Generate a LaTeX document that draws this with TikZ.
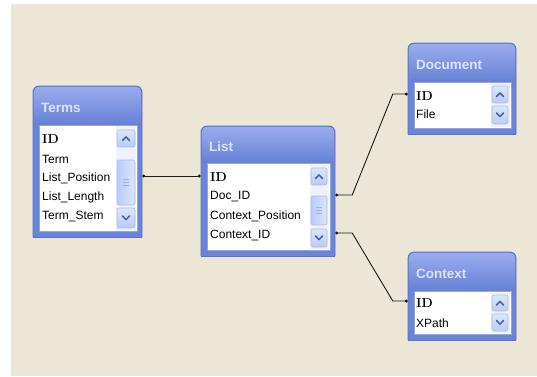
\documentclass[tikz,border=0pt]{standalone}
\usepackage{fontspec}
\usetikzlibrary{calc,fit,arrows.meta}
\newfontfamily\uifont{Liberation Sans}

\definecolor{desk}{HTML}{ECE6D6}
\definecolor{frameblue}{HTML}{6A84D8}
\definecolor{frameedge}{HTML}{5870C6}
\definecolor{headtop}{HTML}{9AACEE}
\definecolor{headbot}{HTML}{6680D6}
\definecolor{titletext}{HTML}{DCE2FA}
\definecolor{listedge}{HTML}{96A6DA}
\definecolor{sbtrack}{HTML}{EEF2FC}
\definecolor{btntop}{HTML}{DCE6FC}
\definecolor{btnbot}{HTML}{B9CBF5}
\definecolor{btnedge}{HTML}{A9BCEC}
\definecolor{chev}{HTML}{4A5F9E}
\definecolor{grip}{HTML}{9DB1E8}
\definecolor{linkcol}{HTML}{1A1A1A}

\tikzset{
  link/.style={draw=linkcol, line width=0.9pt,
    {Circle[length=3pt]}-{Circle[length=3pt]}},
  field/.style={anchor=west, inner sep=0pt, text=black,
    font=\uifont\fontsize{12}{12}\selectfont},
  keyfield/.style={anchor=west, inner sep=0pt, text=black,
    font=\rmfamily\bfseries\fontsize{13}{13}\selectfont},
  tabletitle/.style={anchor=west, inner sep=0pt, text=titletext,
    font=\uifont\bfseries\fontsize{13.5}{14}\selectfont},
}

% table window: name, x1, y1, x2, y2, top of field list, title
\newcommand\dbtable[7]{%
  \coordinate (#1-nw) at (#2,#3);
  \coordinate (#1-se) at (#4,#5);
  \node[inner sep=0pt, fit=(#1-nw)(#1-se)] (#1) {};
  \filldraw[fill=frameblue, draw=frameedge, line width=0.8pt, rounded corners=6pt]
    (#2,#5) -- (#2,#3) -- (#4,#3) -- (#4,#5);
  \draw[frameedge, line width=0.8pt] (#2,#5) -- (#4,#5);
  \shade[top color=headtop, bottom color=headbot, rounded corners=5pt]
    (#2+0.8,#6) -- (#2+0.8,#3+0.8) -- (#4-0.8,#3+0.8) -- (#4-0.8,#6);
  \filldraw[fill=white, draw=listedge, line width=0.6pt] (#2+6,#6) rectangle (#4-5,#5-6);
  \node[tabletitle] (#1-title) at ({#2+8},{(#3+#6)/2+2}) {#7};
}

% scrollbar track: x1, y1, x2, y2
\newcommand\sbtrack[4]{\fill[sbtrack] (#1,#2) rectangle (#3,#4);}

% scroll button with chevron: x1, y1, x2, y2, direction (1 = up, -1 = down)
\newcommand\sbbutton[5]{%
  \shade[top color=btntop, bottom color=btnbot, rounded corners=2pt] (#1,#2) rectangle (#3,#4);
  \draw[btnedge, line width=0.6pt, rounded corners=2pt] (#1,#2) rectangle (#3,#4);
  \draw[chev, line width=1.5pt, line cap=round, line join=round]
    ({(#1+#3)/2-3.5},{(#2+#4)/2+2*#5}) -- ({(#1+#3)/2},{(#2+#4)/2-1.6*#5})
    -- ({(#1+#3)/2+3.5},{(#2+#4)/2+2*#5});
}

% scroll thumb with grip: x1, y1, x2, y2
\newcommand\sbthumb[4]{%
  \shade[left color=btnbot, right color=btntop, rounded corners=2pt] (#1,#2) rectangle (#3,#4);
  \draw[btnedge, line width=0.6pt, rounded corners=2pt] (#1,#2) rectangle (#3,#4);
  \foreach \g in {-3,0,3}
    \draw[grip, line width=0.7pt] ({(#1+#3)/2-3},{(#2+#4)/2+\g}) -- ({(#1+#3)/2+3},{(#2+#4)/2+\g});
}

\begin{document}
\begin{tikzpicture}[x=1pt, y=-1pt]
  \useasboundingbox (0,0) rectangle (537,376);
  \fill[white] (0,0) rectangle (537,376);
  \fill[desk] (11,4) rectangle (537,376);

  % Terms
  \dbtable{terms}{33}{86}{142}{237}{125}{Terms}
  \sbtrack{116}{126}{136}{231}
  \sbbutton{117}{130}{135}{147}{1}
  \sbthumb{117}{160}{135}{205}
  \sbbutton{117}{208}{135}{228}{-1}
  \node[keyfield] (tID)  at (42,139) {ID};
  \node[field]    (tTerm) at (42,159) {Term};
  \node[field]    (tLP)  at (42,178) {List\_Position};
  \node[field]    (tLL)  at (42,197) {List\_Length};
  \node[field]    (tTS)  at (42,216) {Term\_Stem};

  % List
  \dbtable{list}{201}{126}{335}{256}{163}{List}
  \sbtrack{310}{164}{329}{249}
  \sbbutton{311}{168}{327}{185}{1}
  \sbthumb{311}{196}{327}{225}
  \sbbutton{311}{229}{327}{247}{-1}
  \node[keyfield] (lID)  at (210,177) {ID};
  \node[field]    (lDoc) at (210,197) {Doc\_ID};
  \node[field]    (lCP)  at (210,216) {Context\_Position};
  \node[field]    (lCID) at (210,235) {Context\_ID};

  % Document
  \dbtable{doc}{408}{43}{516}{134}{82}{Document}
  \sbtrack{491}{83}{510}{127}
  \sbbutton{492}{86}{508}{103}{1}
  \sbbutton{492}{106}{508}{124}{-1}
  \node[keyfield] (dID)   at (416,96)  {ID};
  \node[field]    (dFile) at (416,114) {File};

  % Context
  \dbtable{ctx}{408}{252}{516}{340}{291}{Context}
  \sbtrack{491}{292}{510}{333}
  \sbbutton{492}{295}{508}{311}{1}
  \sbbutton{492}{314}{508}{331}{-1}
  \node[keyfield] (cID)    at (416,303) {ID};
  \node[field]    (cXPath) at (416,323) {XPath};

  % relationships
  \draw[link] ($(terms.east |- tLP)+(0,-2)$) -- ($(list.west |- tLP)+(0,-2)$);
  \draw[link] ($(list.east |- lDoc)+(0,-2)$) -- ++(17,0)
    -- ($(doc.west |- dID)+(-15,-2)$) -- ($(doc.west |- dID)+(0,-2)$);
  \draw[link] ($(list.east |- lCID)+(0,-2)$) -- ++(17,0)
    -- ($(ctx.west |- cID)+(-15,-2)$) -- ($(ctx.west |- cID)+(0,-2)$);
\end{tikzpicture}
\end{document}
